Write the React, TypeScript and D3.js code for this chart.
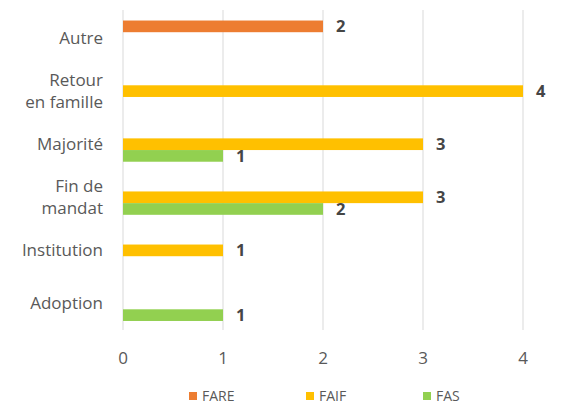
import React from "react";
import * as d3 from "d3";

const categories = ["Autre", "Retour en famille", "Majorité", "Fin de mandat", "Institution", "Adoption"];
const categoryLines = [["Autre"], ["Retour", "en famille"], ["Majorité"], ["Fin de", "mandat"], ["Institution"], ["Adoption"]];
const seriesNames = ["FARE", "FAIF", "FAS"];
const fareValues = [2, null, null, null, null, null];
const faifValues = [null, 4, 3, 3, 1, null];
const fasValues = [null, null, 1, 2, null, 1];
const xTicks = [0, 1, 2, 3, 4];
const colors = ["#ED7D31", "#FFC000", "#92D050"];

const W = 566;
const H = 405;
const margin = { left: 123, right: 43, top: 10, bottom: 75 };
const font = "'Open Sans', 'Noto Sans', sans-serif";

export default function App() {
  const x = d3.scaleLinear().domain([0, 4]).range([margin.left, margin.left + 400]);
  const y = d3.scaleBand().domain(categories).range([11.5, H - margin.bottom]).paddingInner(0.34).paddingOuter(0.17);
  const sub = d3.scaleBand().domain(seriesNames).range([0, y.bandwidth()]);
  const allSeries = [fareValues, faifValues, fasValues];

  return (
    <svg width={W} height={H} style={{ position: "absolute", left: 0, top: 0, background: "#fff" }}>
      {xTicks.map((t) => (
        <line key={t} x1={x(t)} x2={x(t)} y1={margin.top} y2={H - margin.bottom} stroke="#D9D9D9" strokeWidth={1} />
      ))}
      {allSeries.map((vals, si) =>
        vals.map((v, ci) =>
          v == null ? null : (
            <g key={`${si}-${ci}`}>
              <rect
                x={x(0)}
                y={(y(categories[ci]) as number) + (sub(seriesNames[si]) as number)}
                width={x(v) - x(0)}
                height={sub.bandwidth()}
                fill={colors[si]}
              />
              <text
                x={x(v) + 13}
                y={(y(categories[ci]) as number) + (sub(seriesNames[si]) as number) + sub.bandwidth() / 2 + 6}
                fontFamily={font}
                fontWeight="bold"
                fontSize={16.5}
                fill="#454545"
              >
                {v}
              </text>
            </g>
          )
        )
      )}
      {categories.map((c, ci) => {
        const lines = categoryLines[ci];
        const cy = (y(c) as number) + y.bandwidth() / 2;
        return (
          <text key={c} textAnchor="end" fontFamily={font} fontSize={17} fill="#595959">
            {lines.map((l, li) => (
              <tspan key={li} x={103} y={cy + 6 + (li - (lines.length - 1) / 2) * 22}>
                {l}
              </tspan>
            ))}
          </text>
        );
      })}
      {xTicks.map((t) => (
        <text key={t} x={x(t)} y={364} textAnchor="middle" fontFamily={font} fontSize={17} fill="#595959">
          {t}
        </text>
      ))}
      {seriesNames.map((s, i) => (
        <g key={s} transform={`translate(${189 + i * 117},0)`}>
          <rect x={0} y={392} width={8} height={8} fill={colors[i]} />
          <text x={13} y={400.5} fontFamily={font} fontSize={14} fill="#595959">
            {s}
          </text>
        </g>
      ))}
    </svg>
  );
}
